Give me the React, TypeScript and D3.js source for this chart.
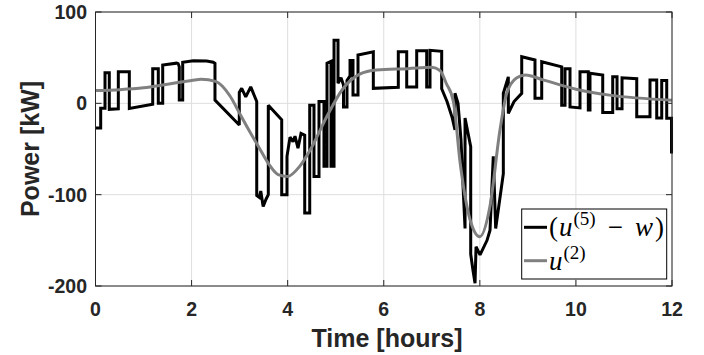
import React from "react";
import * as d3 from "d3";

// ---- data ----
const xTicks = [0, 2, 4, 6, 8, 10, 12];
const yTicks = [-200, -100, 0, 100];

// (u^(5) - w): time [h], power [kW]
const blackT = [
  0, 0.108, 0.108, 0.198, 0.198, 0.287, 0.287, 0.475, 0.475, 0.704, 0.704, 1.191, 1.191, 1.307, 1.307, 1.399, 1.399, 1.69, 1.72, 1.744, 1.744, 1.815, 1.815, 2.036, 2.315, 2.45, 2.487, 2.487,
  2.993, 2.993, 3.043, 3.127, 3.231, 3.356, 3.356, 3.41, 3.44, 3.49, 3.55, 3.597, 3.597, 3.876, 3.876, 3.986, 3.986, 4.049, 4.111, 4.153, 4.215, 4.278, 4.355, 4.355, 4.459, 4.459,
  4.548, 4.548, 4.652, 4.652, 4.756, 4.756, 4.819, 4.819, 4.902, 4.902, 4.965, 4.965, 5.048, 5.048, 5.11, 5.162, 5.162, 5.235, 5.235, 5.298, 5.298, 5.36, 5.36, 5.464, 5.464,
  5.783, 5.783, 6.303, 6.303, 6.478, 6.478, 6.686, 6.686, 6.894, 6.894, 6.963, 6.963, 7.206, 7.206, 7.317, 7.421, 7.483, 7.483, 7.546, 7.608, 7.65, 7.692, 7.692, 7.81, 7.81,
  7.858, 7.9, 7.921, 8.004, 8.15, 8.212, 8.28, 8.33, 8.489, 8.489, 8.593, 8.593, 8.712, 8.872, 8.872, 9.148, 9.148, 9.288, 9.288, 9.704, 9.704, 9.773, 9.773, 9.877, 9.877,
  10.085, 10.085, 10.258, 10.258, 10.293, 10.293, 10.558, 10.558, 10.766, 10.766, 10.856, 10.856, 10.96, 10.96, 11.266, 11.266, 11.542, 11.542, 11.682, 11.682, 11.786, 11.786,
  11.89, 11.89, 11.99, 11.99,
];
const blackV = [
  -27, -27, -5.5, -5.5, 33.5, 33.5, -6.6, -6, 34.6, 34.6, -5.5, -1, 38, 38, 0, 0, 42, 44, 43.5, 40, 3.6, 3.6, 45, 46.7, 46.3, 45, 43.8, 3.6,
  -23.8, 12, 16.4, 7, 18, 2, -101, -103, -96, -113, -105, -100, -2, -18, -100, -100, -58, -37, -42, -36, -49, -33, -35, -120, -120, -2,
  -2, -80, -80, 2, 2, -69, -69, 44, 46, -69, -69, 69, 69, 22, 28, 20, -4, -4, 25, 30, 47, 47, 9, 9, 53,
  56.5, 16.4, 17.5, 56.5, 56.5, 18, 18, 57.6, 57.6, 18, 18, 58, 57, 16, 2, -15, -29, 11, 0, -40, -90, -137, -16, -47.5, -165,
  -183, -197, -157, -166, -150, -139, -58, -137, -77, 11, 29, -11, 2, 11, 51, 47.4, 5.5, 5.5, 45.6, 40, -2, -2, 38, 38, -4,
  -5, 34.6, 34.6, -7.3, -7.3, 33, 31, -10, -10, 29, 29, -6, -6, 28, 27, -14.6, -14.6, 25.5, 25.5, -16, -16, 25,
  25, -16.4, -16.4, -55,
];

// u^(2)
const grayT = [0, 0.5, 1, 1.5, 2, 2.2, 2.5, 2.8, 3.0, 3.2, 3.4, 3.6, 3.8, 4.0, 4.25, 4.5, 4.8, 5.15, 5.5, 5.85, 6.5, 7.0, 7.17, 7.3, 7.45, 7.59, 7.8, 8.0, 8.21, 8.42, 8.56, 8.77, 8.95, 9.3, 10, 10.7, 12];
const grayV = [14, 15, 17, 21, 25, 26.5, 24, 8, -11, -30, -48, -66, -78, -80, -69, -48, -16, 16, 32, 36.5, 38, 39.5, 36, 22, 2, -65, -128, -146, -113, -29, 11, 28, 31, 26, 15.5, 9, 3.5];

const W = 704;
const H = 355;
const L = 95.5, R = 672, T = 12, B = 286;

export default function App() {
  const x = d3.scaleLinear().domain([0, 12]).range([L, R]);
  const y = d3.scaleLinear().domain([-200, 100]).range([B, T]);

  const black: [number, number][] = blackT.map((t, i) => [t, blackV[i]]);
  const gray: [number, number][] = grayT.map((t, i) => [t, grayV[i]]);

  const lineB = d3.line<[number, number]>().x((d) => x(d[0])).y((d) => y(d[1]));
  const lineG = d3
    .line<[number, number]>()
    .x((d) => x(d[0]))
    .y((d) => y(d[1]))
    .curve(d3.curveMonotoneX);

  const axisColor = "#262626";
  const font = "'Liberation Sans', Arial, Helvetica, sans-serif";
  const mathFont = "'Liberation Serif', 'Times New Roman', serif";

  return (
    <svg width={W} height={H} style={{ position: "absolute", left: 0, top: 0, background: "#fff" }}>
      <rect x={0} y={0} width={W} height={H} fill="#fff" />
      {/* grid */}
      {xTicks.map((t) => (
        <line key={"gx" + t} x1={x(t)} x2={x(t)} y1={T} y2={B} stroke="#dedede" strokeWidth={1} />
      ))}
      {yTicks.map((t) => (
        <line key={"gy" + t} x1={L} x2={R} y1={y(t)} y2={y(t)} stroke="#dedede" strokeWidth={1} />
      ))}
      {/* data */}
      <path d={lineB(black) || ""} fill="none" stroke="#000" strokeWidth={3} strokeLinejoin="miter" strokeMiterlimit={2} />
      <path d={lineG(gray) || ""} fill="none" stroke="#808080" strokeWidth={3} />
      {/* box */}
      <rect x={L} y={T} width={R - L} height={B - T} fill="none" stroke={axisColor} strokeWidth={1} />
      {/* ticks */}
      {xTicks.map((t) => (
        <g key={"tx" + t}>
          <line x1={x(t)} x2={x(t)} y1={B} y2={B - 6} stroke={axisColor} />
          <line x1={x(t)} x2={x(t)} y1={T} y2={T + 6} stroke={axisColor} />
          <text x={x(t)} y={316} textAnchor="middle" fontFamily={font} fontWeight="bold" fontSize={19.5} fill={axisColor}>
            {t}
          </text>
        </g>
      ))}
      {yTicks.map((t) => (
        <g key={"ty" + t}>
          <line x1={L} x2={L + 6} y1={y(t)} y2={y(t)} stroke={axisColor} />
          <line x1={R} x2={R - 6} y1={y(t)} y2={y(t)} stroke={axisColor} />
          <text x={87} y={y(t) + 7} textAnchor="end" fontFamily={font} fontWeight="bold" fontSize={19.5} fill={axisColor}>
            {t < 0 ? "-" + Math.abs(t) : String(t)}
          </text>
        </g>
      ))}
      {/* axis labels */}
      <text x={387} y={347} textAnchor="middle" fontFamily={font} fontWeight="bold" fontSize={25} fill={axisColor}>
        Time [hours]
      </text>
      <text
        transform={`translate(39,${(T + B) / 2}) rotate(-90)`}
        textAnchor="middle"
        fontFamily={font}
        fontWeight="bold"
        fontSize={25}
        fill={axisColor}
      >
        Power [kW]
      </text>
      {/* legend */}
      <rect x={521.7} y={209} width={145} height={70} fill="#fff" stroke="#000" strokeWidth={1} />
      <line x1={524} x2={547} y1={227.3} y2={227.3} stroke="#000" strokeWidth={3} />
      <line x1={524} x2={547} y1={260.7} y2={260.7} stroke="#808080" strokeWidth={3} />
      <text x={549} y={236} fontFamily={mathFont} fontSize={27} fill="#000">
        <tspan>(</tspan>
        <tspan fontStyle="italic" dx={1}>u</tspan>
        <tspan dy={-11} dx={1} fontSize={19}>(5)</tspan>
        <tspan dy={11} dx={12}>−</tspan>
        <tspan dx={12} fontStyle="italic">w</tspan>
        <tspan dx={2}>)</tspan>
      </text>
      <text x={549} y={270} fontFamily={mathFont} fontSize={27} fill="#000">
        <tspan fontStyle="italic">u</tspan>
        <tspan dy={-11} dx={1} fontSize={19}>(2)</tspan>
      </text>
    </svg>
  );
}
